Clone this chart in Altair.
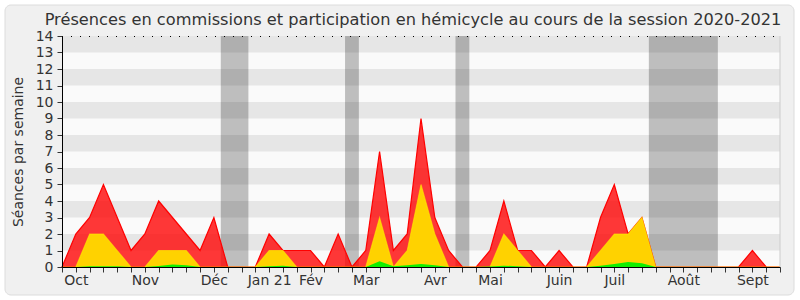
import altair as alt
import pandas as pd

# ---- data (one value per week, week 0 .. 52) ----
weeks = list(range(53))
red = [0, 2, 3, 5, 3, 1, 2, 4, 3, 2,
       1, 3, 0, 0, 0, 2, 1, 1, 1, 0,
       2, 0, 1, 7, 1, 2, 9, 3, 1, 0,
       0, 1, 4, 1, 1, 0, 1, 0, 0, 3,
       5, 2, 3, 0, 0, 0, 0, 0, 0, 0,
       1, 0, 0]
yellow = [0, 0, 2, 2, 1, 0, 0, 1, 1, 1,
          0, 0, 0, 0, 0, 1, 1, 0, 0, 0,
          0, 0, 0, 3, 0, 1, 5, 2, 0, 0,
          0, 0, 2, 1, 0, 0, 0, 0, 0, 1,
          2, 2, 3, 0, 0, 0, 0, 0, 0, 0,
          0, 0, 0]
green = [0, 0, 0.05, 0.05, 0.04, 0, 0, 0.06, 0.15, 0.1,
         0, 0, 0, 0, 0, 0.04, 0.08, 0, 0, 0,
         0, 0, 0, 0.35, 0.05, 0.1, 0.18, 0.1, 0, 0,
         0, 0.03, 0.08, 0.05, 0, 0, 0, 0, 0, 0.08,
         0.18, 0.3, 0.22, 0, 0, 0, 0, 0, 0, 0,
         0, 0, 0]
vac_start = [11.5, 20.5, 28.5, 42.5]
vac_end = [13.5, 21.5, 29.5, 47.5]
month_weeks = [1, 6, 11, 15, 18, 22, 27, 31, 36, 40, 45, 50]
month_labels = ["Oct", "Nov", "Déc", "Jan 21", "Fév", "Mar", "Avr", "Mai",
                "Juin", "Juil", "Août", "Sept"]
stripe_lo = [1, 3, 5, 7, 9, 11, 13]
y_ticks = list(range(15))
title_text = "Présences en commissions et participation en hémicycle au cours de la session 2020-2021"
y_title = "Séances par semaine"

df = pd.DataFrame({"week": weeks, "red": red, "yellow": yellow, "green": green})
vac = pd.DataFrame({"start": vac_start, "end": vac_end})
stripes = pd.DataFrame({"lo": stripe_lo, "hi": [v + 1 for v in stripe_lo]})
one = pd.DataFrame({"k": [0]})

W, H = 718, 231
FONT = "DejaVu Sans"
TXT = "#333333"
xscale = alt.Scale(domain=[0, 52], nice=False, zero=False)
yscale = alt.Scale(domain=[0, 14], nice=False)

label_expr = ""
for w, l in zip(month_weeks, month_labels):
    label_expr += f"datum.value == {w} ? '{l}' : "
label_expr += "''"

x_axis = alt.Axis(values=weeks, labelExpr=label_expr, labelOverlap=False,
                  labelFlush=False, tickSize=5, tickColor="#333333",
                  domainColor="#000000", labelFont=FONT, labelFontSize=14,
                  labelColor=TXT, labelPadding=1, grid=False, zindex=2,
                  title="")
y_axis = alt.Axis(values=y_ticks, tickSize=5, tickColor="#333333",
                  domainColor="#000000", labelFont=FONT, labelFontSize=14,
                  labelColor=TXT, labelPadding=4, labelOverlap=False, grid=False,
                  title=y_title, titleFont=FONT, titleFontSize=14,
                  titleFontWeight="normal", titleColor=TXT, titlePadding=10,
                  zindex=2)

frame = alt.Chart(one).mark_rect(
    fill="#f0f0f0", stroke="#dcdcdc", strokeWidth=1, cornerRadius=6
).encode(x=alt.value(-57), x2=alt.value(732), y=alt.value(-31), y2=alt.value(259))

plotbg = alt.Chart(one).mark_rect(fill="#fafafa").encode(
    x=alt.value(0), x2=alt.value(W), y=alt.value(0), y2=alt.value(H))

vac_layer = alt.Chart(vac).mark_rect(color="#bebebe").encode(
    x=alt.X("start:Q", scale=xscale, axis=x_axis), x2="end:Q",
    y=alt.value(0), y2=alt.value(H))

stripe_layer = alt.Chart(stripes).mark_rect(color="#000000", opacity=0.08).encode(
    x=alt.value(0), x2=alt.value(W),
    y=alt.Y("lo:Q", scale=yscale, axis=y_axis), y2="hi:Q")

red_layer = alt.Chart(df).mark_area(
    color="#ff0000", fillOpacity=0.78, stroke="#ff0000", strokeWidth=1.2
).encode(
    x=alt.X("week:Q", scale=xscale, axis=x_axis),
    y=alt.Y("red:Q", scale=yscale, axis=y_axis))

yellow_layer = alt.Chart(df).mark_area(
    fill="#ffd200", fillOpacity=1, stroke="#ffee00", strokeOpacity=0.6, strokeWidth=1.1
).encode(
    x=alt.X("week:Q", scale=xscale, axis=x_axis),
    y=alt.Y("yellow:Q", scale=yscale, axis=y_axis))

green_layer = alt.Chart(df).mark_area(
    fill="#11ee00", fillOpacity=1
).encode(
    x=alt.X("week:Q", scale=xscale, axis=x_axis),
    y=alt.Y("green:Q", scale=yscale, axis=y_axis))

top_dots = alt.Chart(one).mark_rule(color="#000000", strokeDash=[1, 8], strokeWidth=1).encode(
    x=alt.value(0), x2=alt.value(W), y=alt.value(0.5))

right_border = alt.Chart(one).mark_rule(color="#cccccc", strokeWidth=1).encode(
    x=alt.value(W), y=alt.value(0), y2=alt.value(H))

chart = alt.layer(
    frame, plotbg, vac_layer, stripe_layer, red_layer, yellow_layer, green_layer,
    top_dots, right_border
).properties(
    width=W, height=H,
    autosize=alt.AutoSizeParams(type="none"),
    padding={"left": 62, "top": 36, "right": 20, "bottom": 33},
    background="white",
    title=alt.TitleParams(text=title_text, font=FONT, fontSize=16.2,
                          fontWeight="normal", color=TXT, anchor="middle",
                          frame="group", offset=-24, dx=-8, zindex=2),
).configure_view(strokeWidth=0)

chart.save("out.html", embed_options={"renderer": "svg", "actions": False})
